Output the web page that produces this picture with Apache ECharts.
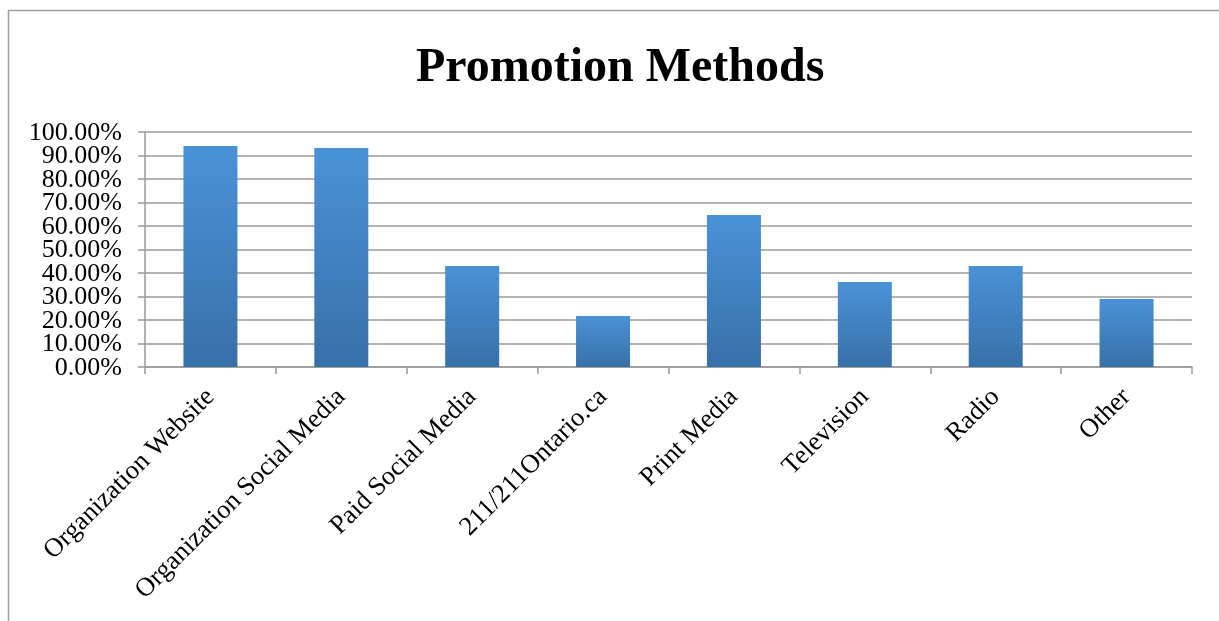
<!DOCTYPE html>
<html>
<head>
<meta charset="utf-8">
<script src="https://cdn.jsdelivr.net/npm/echarts@6/dist/echarts.min.js"></script>
<style>html,body{margin:0;padding:0;background:#fff;}#c{width:1219px;height:621px;}</style>
</head>
<body>
<div id="c"></div>
<script>
const titleText = "Promotion Methods";
const categories = ["Organization Website","Organization Social Media","Paid Social Media","211/211Ontario.ca","Print Media","Television","Radio","Other"];
const values = [94.0, 93.2, 43.0, 21.7, 64.7, 36.2, 43.0, 28.9];
const yTicks = [0, 10, 20, 30, 40, 50, 60, 70, 80, 90, 100];

const chart = echarts.init(document.getElementById('c'), null, {renderer: 'canvas'});
const font = '"Liberation Serif","Times New Roman",serif';
const gridLeft = 145;
chart.setOption({
  animation: false,
  backgroundColor: '#fff',
  title: {
    text: titleText, left: 411, top: 40,
    textStyle: {fontFamily: font, fontSize: 48, fontWeight: 'bold', color: '#000'}
  },
  grid: {left: gridLeft, right: 27, top: 132, bottom: 254, containLabel: false},
  xAxis: {
    type: 'category', data: categories,
    axisLine: {lineStyle: {color: '#9a9a9a', width: 1.5}},
    axisTick: {show: true, alignWithLabel: false, length: 7, lineStyle: {color: '#9a9a9a', width: 1.5}},
    axisLabel: {interval: 0, rotate: 45, margin: 26, fontFamily: font, fontSize: 26.5, color: '#000'}
  },
  yAxis: {
    type: 'value', min: yTicks[0], max: yTicks[yTicks.length - 1], interval: 10,
    axisLine: {show: true, lineStyle: {color: '#9a9a9a', width: 1.5}},
    axisTick: {show: true, length: 7, lineStyle: {color: '#9a9a9a', width: 1.5}},
    splitLine: {show: true, lineStyle: {color: '#9a9a9a', width: 1.5}},
    axisLabel: {show: false}
  },
  series: [{
    type: 'bar', data: values, barWidth: 54,
    itemStyle: {
      color: new echarts.graphic.LinearGradient(0, 0, 0, 1, [
        {offset: 0, color: '#4a92d8'}, {offset: 1, color: '#3870a8'}
      ]),
      shadowColor: 'rgba(0,0,0,0.25)', shadowBlur: 5, shadowOffsetX: 1, shadowOffsetY: 1
    }
  }]
});
// y tick labels placed through the axis scale (drawn separately so that none are dropped as overlapping)
const labelGraphics = yTicks.map(v => ({
  type: 'text', silent: true,
  x: gridLeft - 23,
  y: chart.convertToPixel({yAxisIndex: 0}, v) + 1,
  style: {text: v.toFixed(2) + '%', font: '26px ' + font, fill: '#000',
    textAlign: 'right', textVerticalAlign: 'middle'}
}));
chart.setOption({graphic: [{
    type: 'polyline', silent: true,
    shape: {points: [[8.5, 640], [8.5, 10.5], [1230, 10.5]]},
    style: {stroke: '#a0a0a0', lineWidth: 1.5, fill: null}
  }].concat(labelGraphics)});
</script>
</body>
</html>
